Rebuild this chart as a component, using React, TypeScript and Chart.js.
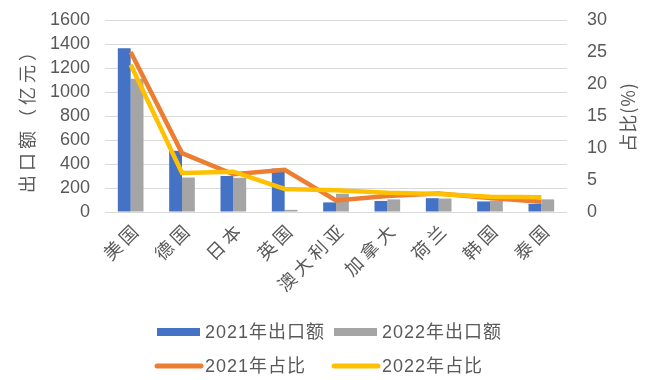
import React, { useEffect, useRef } from "react";
import { Chart, registerables } from "chart.js";

Chart.register(...registerables);

const categories = ["美国", "德国", "日本", "英国", "澳大利亚", "加拿大", "荷兰", "韩国", "泰国"];
const export2021 = [1365, 510, 300, 362, 80, 92, 115, 88, 68];
const export2022 = [1110, 287, 285, 18, 152, 105, 112, 95, 105];
const share2021 = [25.0, 9.2, 5.9, 6.6, 1.8, 2.5, 2.9, 2.2, 1.6];
const share2022 = [23.0, 6.1, 6.3, 3.6, 3.4, 3.0, 2.8, 2.4, 2.3];
const leftTicks = { min: 0, max: 1600, step: 200 };
const rightTicks = { min: 0, max: 30, step: 5 };

const TEXT = "#595959";
const NUM_FONT = "'Liberation Sans', Arial, 'Noto Sans CJK SC', sans-serif";
const CJK_FONT = "'Noto Sans CJK SC', 'Liberation Sans', sans-serif";

const extrasPlugin = {
  id: "extras",
  afterDraw(chart: any) {
    const ctx = chart.ctx as CanvasRenderingContext2D;
    const area = chart.chartArea;
    const midY = (area.top + area.bottom) / 2;
    ctx.save();
    ctx.fillStyle = TEXT;
    ctx.textAlign = "center";
    ctx.textBaseline = "middle";
    // left title
    ctx.save();
    ctx.translate(27, midY + 2);
    ctx.rotate(-Math.PI / 2);
    ctx.font = `18px ${CJK_FONT}`;
    (ctx as any).letterSpacing = "4px";
    ctx.fillText("出口额（亿元）", 2, 0);
    ctx.restore();
    // right title
    ctx.save();
    ctx.translate(628, midY + 1);
    ctx.rotate(-Math.PI / 2);
    ctx.font = `18px ${CJK_FONT}`;
    (ctx as any).letterSpacing = "1px";
    ctx.fillText("占比(%)", 0, 0);
    ctx.restore();

    // x category labels, rotated, positioned from the category scale
    const xs = chart.scales.x;
    const labels: string[] = chart.data.labels;
    labels.forEach((lab, i) => {
      const px = xs.getPixelForTick(i);
      ctx.save();
      ctx.translate(px + 4, area.bottom + 16.5);
      ctx.rotate(-Math.PI / 4);
      ctx.font = `18px ${CJK_FONT}`;
      (ctx as any).letterSpacing = "4px";
      ctx.fillStyle = TEXT;
      ctx.textAlign = "right";
      ctx.textBaseline = "middle";
      ctx.fillText(lab, 4, 0);
      ctx.restore();
    });

    // legend 2x2
    const colX = [157, 334];
    const rowY = [332, 366];
    const ds = chart.data.datasets;
    ds.forEach((d: any, i: number) => {
      const x = colX[i % 2];
      const y = rowY[Math.floor(i / 2)];
      if (d.type === "line") {
        ctx.strokeStyle = d.borderColor;
        ctx.lineWidth = 5;
        ctx.lineCap = "round";
        ctx.beginPath();
        ctx.moveTo(x, y);
        ctx.lineTo(x + 44, y);
        ctx.stroke();
      } else {
        ctx.fillStyle = d.backgroundColor;
        ctx.fillRect(x, y - 4, 43, 8);
      }
      ctx.fillStyle = TEXT;
      ctx.textAlign = "left";
      ctx.textBaseline = "middle";
      ctx.font = `18px ${NUM_FONT}`;
      (ctx as any).letterSpacing = "1px";
      ctx.fillText(d.label, x + 48, y + 1);
    });
    ctx.restore();
  },
};

export default function App() {
  const ref = useRef<HTMLCanvasElement | null>(null);
  useEffect(() => {
    document.body.style.margin = "0";
    const canvas = ref.current;
    if (!canvas) return;
    const chart = new Chart(canvas, {
      type: "bar",
      data: {
        labels: categories,
        datasets: [
          {
            type: "bar",
            label: "2021年出口额",
            data: export2021,
            backgroundColor: "#4472C4",
            yAxisID: "y",
            order: 3,
            categoryPercentage: 0.5,
            barPercentage: 1.0,
          },
          {
            type: "bar",
            label: "2022年出口额",
            data: export2022,
            backgroundColor: "#A5A5A5",
            yAxisID: "y",
            order: 4,
            categoryPercentage: 0.5,
            barPercentage: 1.0,
          },
          {
            type: "line",
            label: "2021年占比",
            data: share2021,
            borderColor: "#ED7D31",
            backgroundColor: "#ED7D31",
            borderWidth: 4.5,
            pointRadius: 0,
            tension: 0,
            yAxisID: "y1",
            order: 2,
          },
          {
            type: "line",
            label: "2022年占比",
            data: share2022,
            borderColor: "#FFC000",
            backgroundColor: "#FFC000",
            borderWidth: 4.5,
            pointRadius: 0,
            tension: 0,
            yAxisID: "y1",
            order: 1,
          },
        ] as any,
      },
      options: {
        animation: false,
        responsive: false,
        layout: { padding: { top: 20, left: 0, right: 0, bottom: 0 } },
        plugins: {
          legend: { display: false },
          tooltip: { enabled: false },
          title: { display: false },
        },
        scales: {
          x: {
            grid: { display: false, drawTicks: false },
            border: { display: false },
            ticks: { display: false, autoSkip: false },
            afterFit(scale: any) {
              scale.height = 168;
              scale.paddingLeft = 0;
              scale.paddingRight = 0;
            },
          },
          y: {
            position: "left",
            min: leftTicks.min,
            max: leftTicks.max,
            grid: { color: "#D9D9D9", lineWidth: 1, drawTicks: false },
            border: { display: false },
            ticks: {
              stepSize: leftTicks.step,
              autoSkip: false,
              color: TEXT,
              font: { size: 18, family: NUM_FONT },
              padding: 15,
              callback: (v: any) => String(v),
            },
            afterFit(scale: any) {
              scale.width = 105;
              scale.paddingTop = 0;
              scale.paddingBottom = 0;
            },
          },
          y1: {
            position: "right",
            min: rightTicks.min,
            max: rightTicks.max,
            grid: { display: false, drawTicks: false },
            border: { display: false },
            ticks: {
              stepSize: rightTicks.step,
              autoSkip: false,
              color: TEXT,
              font: { size: 18, family: NUM_FONT },
              padding: 20,
              callback: (v: any) => String(v),
            },
            afterFit(scale: any) {
              scale.width = 83;
              scale.paddingTop = 0;
              scale.paddingBottom = 0;
            },
          },
        },
      },
      plugins: [extrasPlugin],
    });
    return () => chart.destroy();
  }, []);
  return (
    <div style={{ width: 650, height: 380, background: "#fff" }}>
      <canvas ref={ref} width={650} height={380} style={{ display: "block" }} />
    </div>
  );
}
